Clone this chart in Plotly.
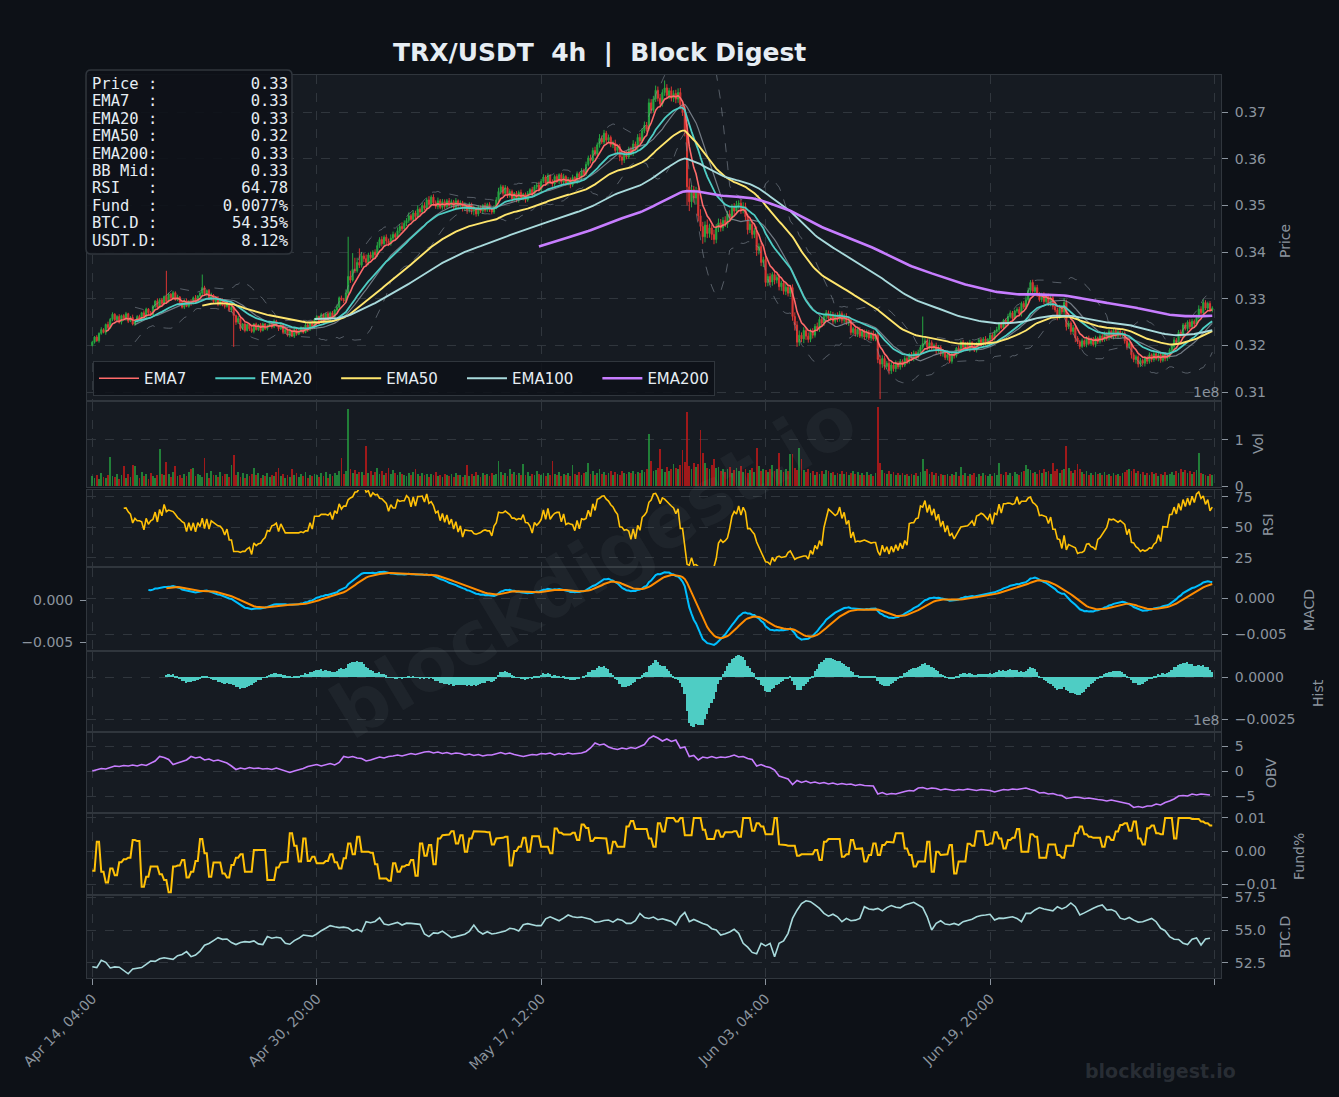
import numpy as np
import pandas as pd
import plotly.graph_objects as go

# ---------------- data ----------------
FIRST_OPEN_E4 = 3200
CLOSE_E4 = [
3207,3218,3210,3226,3234,3228,3245,3238,3256,3267,3255,3262,3250,3264,3256,3268,3252,3260,3246,3252,
3262,3255,3270,3261,3278,3270,3266,3284,3295,3282,3298,3290,3305,3294,3310,3302,3313,3298,3304,3292,
3282,3296,3284,3295,3290,3302,3294,3306,3312,3324,3310,3318,3300,3308,3294,3302,3288,3298,3286,3284,
3290,3276,3282,3264,3250,3258,3236,3246,3232,3245,3236,3230,3246,3234,3244,3232,3246,3236,3242,3248,
3240,3252,3242,3236,3244,3228,3234,3222,3232,3220,3234,3224,3230,3238,3228,3244,3234,3248,3240,3256,
3262,3250,3266,3254,3268,3256,3270,3260,3276,3282,3302,3298,3296,3312,3348,3340,3363,3360,3378,3372,
3392,3386,3378,3394,3388,3400,3394,3414,3427,3418,3432,3424,3418,3430,3438,3432,3446,3455,3450,3462,
3468,3478,3470,3484,3476,3492,3486,3500,3494,3512,3502,3518,3506,3498,3510,3496,3508,3498,3510,3500,
3508,3496,3510,3500,3506,3494,3500,3490,3502,3488,3494,3482,3496,3488,3500,3490,3502,3492,3486,3497,
3512,3530,3540,3526,3538,3522,3530,3514,3526,3512,3528,3516,3524,3512,3526,3534,3524,3540,3544,3534,
3552,3561,3548,3564,3550,3546,3562,3552,3566,3550,3562,3548,3556,3544,3560,3552,3568,3560,3574,3568,
3588,3602,3596,3618,3610,3630,3644,3636,3655,3640,3646,3630,3634,3618,3626,3604,3597,3610,3604,3620,
3612,3632,3624,3646,3638,3660,3672,3664,3720,3704,3728,3747,3730,3718,3742,3752,3736,3746,3730,3740,
3728,3742,3716,3700,3660,3540,3508,3534,3516,3528,3478,3455,3433,3458,3440,3452,3438,3427,3452,3463,
3452,3468,3460,3482,3474,3496,3488,3502,3505,3490,3498,3476,3448,3460,3438,3446,3404,3412,3378,3384,
3335,3348,3336,3352,3340,3346,3326,3334,3316,3325,3312,3324,3262,3244,3207,3222,3214,3232,3220,3213,
3230,3222,3241,3236,3256,3248,3262,3270,3258,3266,3252,3264,3256,3268,3254,3262,3249,3254,3228,3236,
3224,3234,3220,3230,3218,3228,3216,3226,3214,3222,3170,3160,3172,3155,3162,3146,3158,3150,3162,3154,
3166,3158,3172,3166,3180,3172,3184,3176,3185,3196,3204,3210,3196,3206,3194,3200,3188,3196,3182,3186,
3174,3180,3166,3182,3178,3194,3188,3207,3196,3204,3192,3206,3198,3190,3203,3212,3202,3214,3204,3213,
3222,3214,3230,3234,3246,3238,3254,3246,3262,3270,3258,3274,3277,3268,3290,3282,3298,3318,3335,3316,
3324,3310,3298,3308,3294,3306,3290,3302,3284,3276,3262,3280,3272,3292,3240,3248,3230,3238,3216,3208,
3198,3210,3202,3216,3204,3214,3202,3216,3208,3220,3212,3226,3216,3230,3218,3232,3220,3230,3222,3226,
3210,3198,3204,3180,3170,3176,3160,3168,3162,3174,3166,3180,3170,3182,3172,3180,3168,3182,3172,3177,
3190,3198,3212,3206,3228,3222,3244,3236,3250,3240,3252,3246,3260,3278,3270,3292,3280,3290,3276,3280]

UPPER_WICK_E4 = [
3,2,4,2,5,3,2,6,3,4,2,3,5,2,3,4,2,3,6,2,
3,4,2,5,3,2,4,3,2,6,3,4,2,55,3,2,4,3,5,2,
2,3,5,2,4,3,6,2,3,28,4,2,3,5,2,3,4,2,3,2,
3,2,4,3,2,5,3,2,4,2,3,5,2,3,2,4,3,2,3,4,
2,4,3,2,5,3,2,3,4,2,3,2,5,3,2,4,3,2,6,3,
3,2,4,3,2,5,3,4,2,6,3,5,4,8,85,12,35,25,10,30,
8,6,9,5,7,4,6,8,5,7,4,6,5,8,6,4,7,5,9,6,
5,7,4,6,5,8,4,6,7,5,8,4,6,5,7,4,6,5,4,6,
5,4,6,3,5,4,7,3,5,4,6,3,5,4,3,6,4,5,3,4,
6,8,5,4,6,3,5,4,3,5,4,6,3,4,5,3,6,4,5,7,
5,6,4,5,3,6,4,5,3,4,6,3,5,4,6,3,5,4,6,5,
6,5,7,6,8,5,9,6,7,5,6,4,5,7,4,6,8,5,7,6,
6,8,5,7,9,6,8,7,9,8,7,10,8,9,7,16,8,6,9,7,
8,9,10,7,12,15,18,10,8,12,9,14,10,8,12,9,7,10,8,9,
8,7,9,6,8,7,9,8,6,7,9,8,6,7,8,6,9,7,8,6,
8,6,7,5,8,6,7,5,6,8,5,6,7,9,8,10,6,7,5,8,
6,7,5,8,6,5,7,6,5,8,6,5,7,6,5,6,7,5,6,4,
5,4,6,5,4,6,5,4,6,5,8,9,7,6,5,7,6,5,6,4,
5,4,6,5,4,6,5,4,6,5,58,6,5,7,5,4,6,5,4,5,
4,5,6,4,5,3,6,4,5,3,4,6,3,5,4,3,5,4,6,3,
4,5,3,6,4,5,3,4,6,5,4,3,5,6,4,5,7,6,5,6,
5,6,4,5,6,4,5,7,4,6,5,7,6,10,6,5,4,6,5,4,
4,5,3,4,5,3,4,5,3,4,5,4,3,5,4,3,4,5,3,4,
4,5,4,3,5,4,3,5,4,3,4,5,3,4,3,5,4,3,4,5,
4,5,6,4,5,6,4,5,4,6,5,4,6,8,6,7,5,4,5,4]

LOWER_WICK_E4 = [
2,3,2,4,3,2,5,3,2,4,3,2,3,5,2,3,4,2,3,4,
3,2,4,3,2,5,3,2,4,3,2,4,3,5,2,3,4,2,3,4,
3,4,2,3,5,2,4,3,2,4,3,5,2,4,3,2,4,3,2,5,
3,4,5,67,6,4,5,3,4,2,5,3,4,2,3,4,2,3,4,3,
4,3,2,5,3,4,2,3,5,2,4,3,2,4,3,2,5,3,2,4,
3,4,2,5,3,2,4,3,2,4,3,2,5,3,4,6,3,5,4,6,
5,7,9,6,4,5,6,4,5,6,4,7,5,4,6,5,4,6,5,4,
6,5,4,6,5,4,7,5,4,6,5,4,7,5,6,4,5,6,4,5,
5,4,6,5,4,7,6,8,5,7,9,6,5,4,6,5,4,6,5,4,
5,4,6,5,4,6,5,7,4,5,6,4,5,6,4,5,4,6,5,4,
5,4,6,5,4,6,5,4,6,5,4,6,5,7,4,5,6,4,5,4,
5,4,6,5,4,5,6,4,5,7,6,5,7,6,8,9,10,6,5,4,
5,6,4,5,6,4,5,6,4,7,5,6,7,8,6,7,6,8,7,8,
9,8,10,8,12,40,20,12,10,14,12,10,15,12,10,9,12,10,8,9,
8,7,6,8,7,6,8,7,9,8,7,8,10,7,9,8,12,9,8,10,
9,8,7,8,9,7,8,9,7,8,7,8,9,12,10,8,7,9,8,7,
6,7,5,6,7,5,6,7,5,6,7,5,6,5,7,6,5,7,6,5,
5,6,4,5,6,4,5,6,4,5,8,75,8,7,6,8,7,6,7,5,
6,5,4,6,5,4,6,5,4,6,5,4,6,5,4,5,6,4,5,6,
5,6,4,5,6,4,5,4,6,5,4,6,5,4,5,6,4,5,4,5,
4,5,3,4,5,3,4,5,3,4,5,3,4,5,6,4,5,4,6,5,
5,6,4,5,6,4,5,6,7,5,8,6,5,6,8,5,7,6,9,5,
6,4,5,6,4,5,4,6,5,4,5,4,6,5,4,5,4,6,5,4,
6,7,5,8,6,9,7,6,5,7,6,5,6,5,4,6,5,4,6,5,
5,4,6,5,4,6,5,4,6,5,4,6,5,4,6,5,4,5,4,5]

VOLUME_M = [
22,18,25,15,28,20,17,24,63,21,19,26,16,23,44,18,27,20,45,44,
24,17,30,21,26,15,29,22,18,25,80,27,23,52,26,20,31,44,22,25,
18,27,22,30,38,40,21,26,24,19,60,28,17,32,23,25,20,31,22,27,
26,19,45,67,24,30,20,29,18,26,22,27,40,23,29,17,25,21,28,19,
25,22,30,40,21,26,18,24,20,37,23,28,19,26,22,30,17,25,21,27,
24,19,28,22,30,18,26,21,29,24,32,60,27,33,166,38,29,35,26,31,
30,25,87,28,33,24,30,40,27,32,25,29,40,26,34,28,23,31,27,25,
22,29,24,30,38,26,21,28,23,27,20,26,24,31,22,25,19,27,23,21,
26,20,28,23,25,19,24,45,22,27,21,30,25,20,28,23,26,22,29,24,
27,54,31,25,29,22,36,26,30,24,28,23,47,25,30,21,27,24,32,26,
24,29,22,28,25,55,27,23,30,21,26,24,29,22,45,27,23,31,25,28,
30,51,27,33,25,29,38,26,31,24,28,33,25,30,27,24,32,28,26,30,
28,33,26,31,29,35,30,38,112,54,32,34,40,80,36,30,42,33,38,47,
40,36,45,78,52,160,44,38,50,42,48,122,71,49,40,37,45,58,39,42,
33,38,30,36,42,28,35,40,32,43,30,36,28,34,39,30,83,44,33,37,
35,30,38,45,32,36,71,34,30,38,33,69,69,40,35,82,58,34,30,36,
29,33,25,30,27,32,26,35,33,28,31,24,29,26,33,27,30,25,28,32,
26,30,23,28,25,31,24,27,22,29,172,51,34,29,27,33,26,30,24,28,
25,29,23,27,21,26,24,28,22,30,58,32,38,26,30,24,28,22,27,25,
23,27,21,26,24,30,22,42,25,28,21,27,23,29,20,26,22,28,24,21,
26,22,29,24,49,27,23,30,25,28,22,31,26,24,30,33,45,38,35,29,
31,27,34,28,36,30,33,26,49,32,36,28,34,38,87,40,33,29,35,47,
36,30,27,33,25,29,24,31,26,28,23,30,25,27,22,29,24,26,21,28,
30,35,38,32,36,28,33,26,30,24,28,23,31,26,29,22,27,24,30,25,
27,31,25,33,29,36,30,34,28,32,27,30,35,71,29,26,24,22,27,25]

# OBV (x 1e8), one value per two candles
OBV_E8 = [
0.0,0.3,0.5,0.4,0.7,1.0,0.9,1.1,1.0,1.2, 1.0,1.3,1.1,1.6,2.0,2.9,2.7,2.3,1.3,1.6,
1.9,2.2,2.9,2.6,2.8,2.2,2.4,2.0,2.2,1.9, 1.6,1.0,0.3,0.6,0.4,0.7,0.5,0.6,0.4,0.5,
0.3,0.6,0.3,0.1,-0.3,0.0,0.2,0.5,0.9,1.1, 1.3,1.0,1.3,1.5,1.2,1.7,2.9,2.7,2.9,2.6,
2.5,2.0,2.2,2.5,2.8,2.6,2.9,3.0,3.2,3.0, 3.3,3.5,3.3,3.6,3.8,3.9,3.6,3.8,3.5,3.7,
3.4,3.6,3.5,3.2,3.4,3.1,3.3,3.0,3.2,3.2, 3.5,3.7,3.4,3.6,3.3,3.1,2.9,3.1,3.3,3.2,
3.5,3.4,3.6,3.2,3.5,3.3,3.6,3.4,3.5,3.6, 3.9,4.6,5.6,5.2,5.4,4.8,4.5,4.3,4.6,4.4,
4.7,4.5,4.9,5.3,6.5,7.0,6.6,6.0,6.4,5.9, 6.2,4.6,4.8,2.9,3.1,2.2,2.8,2.6,2.9,2.6,
2.8,2.7,2.9,3.2,2.8,2.9,2.5,2.3,1.0,1.3, 0.9,0.7,0.2,-1.0,-1.3,-1.6,-2.7,-1.9,-2.3,-2.0,
-2.4,-2.2,-2.5,-2.3,-2.6,-2.4,-2.7,-2.5,-2.7,-2.6, -2.9,-2.7,-2.9,-3.0,-3.0,-4.6,-4.3,-4.7,-4.5,-4.6,
-4.3,-4.1,-3.9,-4.0,-3.4,-3.3,-3.6,-3.4,-3.5,-3.8, -3.6,-3.7,-3.9,-3.7,-3.8,-3.6,-3.8,-3.9,-3.7,-3.8,
-3.9,-4.2,-3.9,-3.7,-3.8,-3.6,-3.7,-3.5,-3.4,-3.7, -3.9,-4.4,-4.3,-4.6,-4.5,-4.8,-4.9,-5.5,-5.4,-5.2,
-5.3,-5.5,-5.4,-5.6,-5.7,-5.8,-6.0,-5.8,-6.0,-6.2, -6.5,-6.6,-7.3,-7.1,-7.3,-7.0,-7.0,-6.6,-6.8,-6.3,
-6.0,-5.6,-5.0,-4.9,-5.0,-4.6,-4.8,-4.6,-4.7,-4.8]

# BTC dominance (x 0.01 %), one value per two candles
BTCD_E2 = [
5222,5215,5270,5255,5212,5220,5218,5190,5168,5205, 5212,5215,5240,5265,5262,5282,5290,5283,5278,5305,
5315,5336,5298,5310,5340,5385,5398,5420,5442,5429, 5432,5405,5390,5405,5412,5408,5417,5395,5390,5450,
5438,5445,5440,5400,5392,5420,5437,5462,5455,5452, 5470,5495,5513,5533,5525,5518,5522,5515,5492,5505,
5487,5563,5555,5565,5593,5545,5538,5550,5558,5538, 5552,5550,5545,5543,5470,5450,5478,5475,5492,5468,
5442,5450,5460,5468,5490,5538,5492,5470,5487,5470, 5475,5482,5492,5513,5508,5492,5540,5548,5538,5533,
5533,5585,5600,5585,5570,5590,5614,5600,5595,5598, 5590,5582,5560,5563,5572,5576,5560,5582,5575,5550,
5550,5570,5626,5595,5588,5598,5578,5585,5575,5565, 5538,5600,5634,5563,5580,5563,5550,5538,5510,5500,
5462,5472,5485,5505,5475,5399,5370,5330,5320,5399, 5380,5399,5298,5399,5417,5475,5588,5650,5700,5722,
5715,5690,5664,5626,5605,5620,5600,5563,5588,5570, 5575,5588,5677,5660,5655,5664,5645,5670,5685,5672,
5668,5690,5702,5710,5690,5670,5600,5500,5550,5570, 5545,5540,5550,5538,5563,5570,5582,5600,5610,5614,
5619,5576,5590,5588,5595,5600,5588,5563,5626,5626, 5652,5670,5660,5650,5645,5677,5660,5675,5705,5677,
5614,5630,5650,5665,5680,5690,5652,5655,5640,5590, 5580,5595,5575,5560,5563,5576,5588,5563,5513,5495,
5450,5430,5428,5400,5390,5430,5440,5386,5432,5437]

# funding rate (x 0.0001 %), one value per 8h (= two candles)
FUND_E4 = [
-60,28,-63,-95,-53,-73,-34,-25,-20,33, 30,-108,-78,-47,-47,-70,-88,-125,-47,-44,
-27,-80,-63,-30,36,-7,-78,-35,-35,-68, -80,-42,-20,-10,-63,-63,3,3,3,-88,
-88,-50,-35,-33,54,16,-32,38,-30,-17, -37,-37,-30,-10,-34,-53,-22,23,-10,43,
-2,-2,-5,-40,-83,-83,-90,-37,-63,-47, -42,-27,-75,23,-14,18,-40,38,48,50,
60,23,48,-2,38,60,58,58,57,20, 38,40,43,-44,0,13,40,-2,45,45,
13,13,-7,68,55,50,50,55,33,80, 70,30,40,38,38,-7,28,13,13,74,
91,67,67,67,38,13,84,59,100,100, 89,100,48,48,100,100,64,36,36,62,
43,57,57,60,43,100,100,61,84,74, 51,51,100,20,18,16,16,-14,-10,-12,
-10,3,-27,28,36,36,36,-17,-10,33, 6,8,-32,-12,23,-12,18,28,26,54,
54,8,-12,-47,-32,-32,28,-63,-2,-12, -10,18,-68,-32,-32,22,16,60,60,18,
23,57,38,8,33,40,67,-2,-2,51, 43,-20,-20,20,20,-12,-20,16,16,54,
74,51,43,40,40,13,43,33,59,79, 84,61,89,38,20,69,77,54,51,100,
100,38,100,100,100,97,97,89,84,77]

XTICK_VALS = [0, 100, 200, 300, 400, 500]
XTICK_LABELS = ["Apr 14, 04:00", "Apr 30, 20:00", "May 17, 12:00", "Jun 03, 04:00", "Jun 19, 20:00", ""]

INFO_LABELS = ["Price", "EMA7", "EMA20", "EMA50", "EMA200", "BB Mid", "RSI", "Fund", "BTC.D", "USDT.D"]
INFO_VALUES = ["0.33", "0.33", "0.33", "0.32", "0.33", "0.33", "64.78", "0.0077%", "54.35%", "8.12%"]

# ---------------- derived series ----------------
close = pd.Series(np.array(CLOSE_E4, float) / 1e4)
open_ = pd.Series(np.r_[FIRST_OPEN_E4, CLOSE_E4[:-1]].astype(float) / 1e4)
high = np.maximum(open_, close) + np.array(UPPER_WICK_E4) / 1e4
low = np.minimum(open_, close) - np.array(LOWER_WICK_E4) / 1e4
n = len(close)
idx = np.arange(n)

def ema(s, span):
    return s.ewm(span=span, adjust=True, min_periods=span).mean()

ema7, ema20, ema50, ema100, ema200 = (ema(close, s) for s in (7, 20, 50, 100, 200))
bb_mid = close.rolling(20).mean()
bb_sd = close.rolling(20).std()
bb_up, bb_lo = bb_mid + 2 * bb_sd, bb_mid - 2 * bb_sd

delta = close.diff()
gain = delta.clip(lower=0).rolling(14).mean()
loss = (-delta).clip(lower=0).rolling(14).mean()
rsi = 100 - 100 / (1 + gain / loss)

macd = close.ewm(span=12, adjust=False, min_periods=12).mean() - close.ewm(span=26, adjust=False, min_periods=26).mean()
signal = macd.ewm(span=9, adjust=False, min_periods=9).mean()
hist = macd - signal

vol = np.array(VOLUME_M, float) / 100.0  # in 1e8
obv = np.array(OBV_E8)
obv_x = np.arange(len(obv)) * 2
btcd = np.array(BTCD_E2) / 100.0
btcd_x = np.arange(len(btcd)) * 2
fund = np.repeat(np.array(FUND_E4, float) / 1e4, 2)

# ---------------- styling ----------------
BG = "#0d1117"
PANEL = "#161b22"
GRID = "#30363d"
TXT = "#8b949e"
WHITE = "#e6edf3"
UP, DN = "#26a641", "#da3633"
VUP, VDN = "rgba(38,166,65,0.72)", "rgba(185,25,25,0.85)"
C_EMA = {"EMA7": "#ff6b6b", "EMA20": "#4ecdc4", "EMA50": "#ffe66d", "EMA100": "#a8dadc", "EMA200": "#c77dff"}
FONT = "DejaVu Sans"

W, H = 1339, 1097
L, R, T, B = 87, 1221, 75, 978
def px_x(p): return (p - L) / (R - L)
def px_y(p): return (B - p) / (B - T)

panels = [(75, 400), (402, 487), (490, 566), (568, 650), (652, 731), (733, 812), (814, 894), (896, 978)]

fig = go.Figure()

def ax(i):
    return ("x" if i == 0 else f"x{i+1}"), ("y" if i == 0 else f"y{i+1}")

# price panel
xa, ya = ax(0)
fig.add_trace(go.Candlestick(x=idx, open=open_, high=high, low=low, close=close,
                             increasing=dict(line=dict(color=UP, width=1), fillcolor=UP),
                             decreasing=dict(line=dict(color=DN, width=1), fillcolor=DN),
                             showlegend=False, hoverinfo="skip", xaxis=xa, yaxis=ya))
for s in (bb_up, bb_lo):
    fig.add_trace(go.Scatter(x=idx, y=s, mode="lines", line=dict(color="rgba(139,148,158,0.55)", width=1, dash="dash"),
                             showlegend=False, hoverinfo="skip", xaxis=xa, yaxis=ya))
fig.add_trace(go.Scatter(x=idx, y=bb_mid, mode="lines", line=dict(color="rgba(139,148,158,0.8)", width=1.2),
                         showlegend=False, hoverinfo="skip", xaxis=xa, yaxis=ya))
NB = "\u00a0"
for name, s, w in (("EMA7", ema7, 1.6), ("EMA20", ema20, 1.8), ("EMA50", ema50, 1.9), ("EMA100", ema100, 1.9), ("EMA200", ema200, 2.6)):
    label = name if name == "EMA200" else name + NB * 4
    fig.add_trace(go.Scatter(x=idx, y=s, mode="lines", name=label, line=dict(color=C_EMA[name], width=w),
                             hoverinfo="skip", xaxis=xa, yaxis=ya))

# volume
xa, ya = ax(1)
fig.add_trace(go.Bar(x=idx, y=vol, marker=dict(color=np.where(close >= open_, VUP, VDN), line=dict(width=0)),
                     width=0.8, showlegend=False, hoverinfo="skip", xaxis=xa, yaxis=ya))
# RSI
xa, ya = ax(2)
fig.add_trace(go.Scatter(x=idx, y=rsi, mode="lines", line=dict(color="#ffc107", width=1.6),
                         showlegend=False, hoverinfo="skip", xaxis=xa, yaxis=ya))
# MACD
xa, ya = ax(3)
fig.add_trace(go.Scatter(x=idx, y=macd, mode="lines", line=dict(color="#00bfff", width=2),
                         showlegend=False, hoverinfo="skip", xaxis=xa, yaxis=ya))
fig.add_trace(go.Scatter(x=idx, y=signal, mode="lines", line=dict(color="#ff8c00", width=2),
                         showlegend=False, hoverinfo="skip", xaxis=xa, yaxis=ya))
fig.add_trace(go.Scatter(x=idx, y=macd, mode="lines", line=dict(color="rgba(0,0,0,0)", width=0),
                         showlegend=False, hoverinfo="skip", xaxis=xa, yaxis="y9"))
# Hist
xa, ya = ax(4)
fig.add_trace(go.Bar(x=idx, y=hist, marker=dict(color="#4ecdc4", line=dict(width=0)), width=0.8,
                     showlegend=False, hoverinfo="skip", xaxis=xa, yaxis=ya))
# OBV
xa, ya = ax(5)
fig.add_trace(go.Scatter(x=obv_x, y=obv, mode="lines", line=dict(color="#c77dff", width=1.6),
                         showlegend=False, hoverinfo="skip", xaxis=xa, yaxis=ya))
# Funding
xa, ya = ax(6)
fig.add_trace(go.Scatter(x=idx, y=fund, mode="lines", line=dict(color="#ffc107", width=2),
                         showlegend=False, hoverinfo="skip", xaxis=xa, yaxis=ya))
# BTC.D
xa, ya = ax(7)
fig.add_trace(go.Scatter(x=btcd_x, y=btcd, mode="lines", line=dict(color="#a8dadc", width=1.6),
                         showlegend=False, hoverinfo="skip", xaxis=xa, yaxis=ya))

yspecs = [
    dict(range=[0.30831, 0.37797], tickvals=[0.31, 0.32, 0.33, 0.34, 0.35, 0.36, 0.37], tickformat=".2f"),
    dict(range=[-0.02, 1.82], tickvals=[0, 1], tickformat="d"),
    dict(range=[18.4, 80.7], tickvals=[25, 50, 75], tickformat="d"),
    dict(range=[-0.00722, 0.00417], tickvals=[-0.005, 0.0], tickformat=".3f"),
    dict(range=[-0.00321, 0.00149], tickvals=[-0.0025, 0.0], tickformat=".4f"),
    dict(range=[-8.2, 7.6], tickvals=[-5, 0, 5], tickformat="d"),
    dict(range=[-0.0130, 0.0112], tickvals=[-0.01, 0.0, 0.01], tickformat=".2f"),
    dict(range=[51.36, 57.58], tickvals=[52.5, 55.0, 57.5], tickformat=".1f"),
]

layout = dict(width=W, height=H, paper_bgcolor=BG, plot_bgcolor=PANEL, template="none",
              margin=dict(l=L, r=W - R, t=T, b=H - B, autoexpand=False),
              font=dict(family=FONT, color=TXT, size=14), bargap=0, barmode="overlay",
              showlegend=True,
              legend=dict(orientation="h", x=px_x(93), y=px_y(396), xanchor="left", yanchor="bottom",
                          bgcolor="rgba(13,17,23,0.85)", bordercolor=GRID, borderwidth=1, itemwidth=40,
                          font=dict(family=FONT, size=15, color=WHITE)))

for i, (top, bot) in enumerate(panels):
    key = "" if i == 0 else str(i + 1)
    last = i == len(panels) - 1
    xd = dict(domain=[0, 1], anchor="y" + key, range=[-2.36, 502.9], tickvals=XTICK_VALS,
              ticktext=XTICK_LABELS, showticklabels=last, tickangle=-45, ticks="outside" if last else "",
              ticklen=6, tickcolor=TXT, tickfont=dict(size=14, color=TXT),
              showgrid=True, gridcolor=GRID, griddash="dash", gridwidth=1, zeroline=False,
              showline=True, linecolor=GRID, linewidth=1, mirror=True, automargin=False)
    if i == 0:
        xd["rangeslider"] = dict(visible=False)
    else:
        xd["matches"] = "x"
    layout["xaxis" + key] = xd
    ys = yspecs[i]
    layout["yaxis" + key] = dict(domain=[px_y(bot), px_y(top)], anchor="x" + key, side="right",
                                 range=ys["range"], tickvals=ys["tickvals"], tickformat=ys["tickformat"],
                                 ticks="outside", ticklen=6, tickcolor=TXT, ticklabelstandoff=4,
                                 tickfont=dict(size=14, color=TXT),
                                 showgrid=True, gridcolor=GRID, griddash="dash", gridwidth=1, zeroline=False,
                                 showline=True, linecolor=GRID, linewidth=1, mirror=True, automargin=False)

layout["yaxis9"] = dict(overlaying="y4", anchor="x4", side="left", range=[-0.00595, 0.00381],
                        tickvals=[-0.005, 0.0], tickformat=".3f", ticks="outside", ticklen=6, tickcolor=TXT,
                        ticklabelstandoff=4, tickfont=dict(size=14, color=TXT), showgrid=False,
                        zeroline=False, showline=False, automargin=False)

# info box background (rounded rectangle)
bx0, bx1, by0, by1 = px_x(86), px_x(292), px_y(70), px_y(254)
rx, ry = 5 / (R - L), 5 / (B - T)
box_path = (f"M {bx0+rx},{by0} L {bx1-rx},{by0} Q {bx1},{by0} {bx1},{by0-ry} "
            f"L {bx1},{by1+ry} Q {bx1},{by1} {bx1-rx},{by1} L {bx0+rx},{by1} "
            f"Q {bx0},{by1} {bx0},{by1+ry} L {bx0},{by0-ry} Q {bx0},{by0} {bx0+rx},{by0} Z")
layout["shapes"] = [dict(type="path", path=box_path, xref="paper", yref="paper", layer="above",
                         fillcolor="rgba(13,17,23,0.9)", line=dict(color=GRID, width=1.5))]

ann = []
ann.append(dict(text="<b>TRX/USDT\u00a0\u00a04h\u00a0\u00a0|\u00a0\u00a0Block Digest</b>", x=px_x(599), y=px_y(52),
                xref="paper", yref="paper", xanchor="center", yanchor="middle", showarrow=False,
                font=dict(family=FONT, size=25, color=WHITE)))
for k, (lab, val) in enumerate(zip(INFO_LABELS, INFO_VALUES)):
    line = (f"{lab:<6}:{val:>14}").replace(" ", NB)
    ann.append(dict(text=line, x=px_x(90), y=px_y(84 + 17.4 * k), xref="paper", yref="paper",
                    xanchor="left", yanchor="middle", align="left", showarrow=False,
                    font=dict(family="DejaVu Sans Mono", size=15.5, color=WHITE)))
for lab, xp, yp in (("Price", 1285, 241), ("Vol", 1258, 444), ("RSI", 1268, 525), ("MACD", 1309, 610),
                    ("Hist", 1318, 693), ("OBV", 1271, 773), ("Fund%", 1299, 857), ("BTC.D", 1285, 937)):
    ann.append(dict(text=lab, x=px_x(xp), y=px_y(yp), xref="paper", yref="paper", textangle=-90,
                    xanchor="center", yanchor="middle", showarrow=False, font=dict(family=FONT, size=14, color=TXT)))
for yp in (392, 720):
    ann.append(dict(text="1e8", x=1.0, y=px_y(yp), xref="paper", yref="paper", xanchor="right", yanchor="middle",
                    showarrow=False, font=dict(family=FONT, size=14, color=TXT)))
ann.append(dict(text="<b>blockdigest.io</b>", x=px_x(593), y=px_y(566), xref="paper", yref="paper",
                textangle=-31, xanchor="center", yanchor="middle", showarrow=False,
                font=dict(family=FONT, size=75, color="rgba(200,210,220,0.05)")))
ann.append(dict(text="<b>blockdigest.io</b>", x=px_x(1238), y=px_y(1071), xref="paper", yref="paper",
                xanchor="right", yanchor="middle", showarrow=False,
                font=dict(family=FONT, size=19, color="rgba(139,148,158,0.22)")))
layout["annotations"] = ann

fig.update_layout(**layout)
fig.write_html("out.html")
